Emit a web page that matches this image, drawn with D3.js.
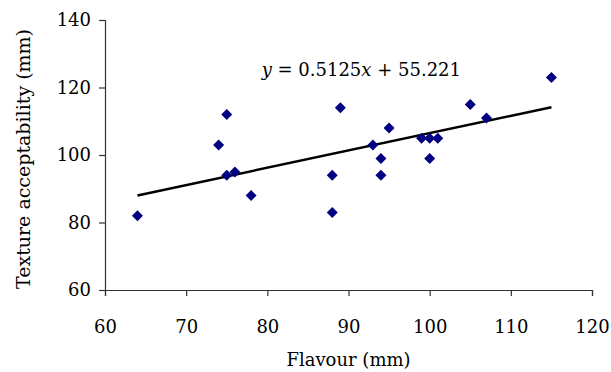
<!DOCTYPE html>
<html>
<head>
<meta charset="utf-8">
<script src="https://cdn.jsdelivr.net/npm/d3@7"></script>
<style>
  body { margin: 0; background: #fff; }
  text { font-family: "DejaVu Serif", serif; fill: #000; }
</style>
</head>
<body>
<svg width="611" height="372"></svg>
<script>
// flavour (x) vs texture acceptability (y), both in mm
var flavour = [64, 74, 75, 75, 76, 78, 88, 88, 89, 93, 94, 94, 95, 99, 100, 100, 101, 105, 107, 115];
var texture = [82, 103, 112, 94, 95, 88, 94, 83, 114, 103, 99, 94, 108, 105, 105, 99, 105, 115, 111, 123];
var xTicks = [60, 70, 80, 90, 100, 110, 120];
var yTicks = [60, 80, 100, 120, 140];
var slope = 0.5125;
var intercept = 55.221;

var points = flavour.map(function(d, i) { return {x: d, y: texture[i]}; });

var margins = {top: 20, left: 105, right: 19, bottom: 82};
var width = 611 - margins.left - margins.right;
var height = 372 - margins.top - margins.bottom;

var svg = d3.select('svg');

var xScale = d3.scaleLinear().domain([60, 120]).range([0, width]);
var yScale = d3.scaleLinear().domain([60, 140]).range([height, 0]);

var plot = svg.append('g')
  .attr('transform', 'translate(' + margins.left + ',' + margins.top + ')');

// axes
var xAxis = d3.axisBottom(xScale).tickValues(xTicks).tickSize(6).tickPadding(24);
var yAxis = d3.axisLeft(yScale).tickValues(yTicks).tickSize(6).tickPadding(8);

var gx = plot.append('g')
  .attr('transform', 'translate(0,' + height + ')')
  .call(xAxis);
var gy = plot.append('g').call(yAxis);

[gx, gy].forEach(function(g) {
  g.select('.domain').attr('stroke', '#333').attr('stroke-width', 1.2);
  g.selectAll('.tick line').attr('stroke', '#333').attr('stroke-width', 1.2);
  g.selectAll('.tick text')
    .style('font-family', '"DejaVu Serif", serif')
    .style('font-size', '18px')
    .attr('fill', '#000');
});

// trend line
var xExtent = d3.extent(flavour);
plot.append('line')
  .attr('x1', xScale(xExtent[0]))
  .attr('y1', yScale(slope * xExtent[0] + intercept))
  .attr('x2', xScale(xExtent[1]))
  .attr('y2', yScale(slope * xExtent[1] + intercept))
  .attr('stroke', '#000')
  .attr('stroke-width', 2.5);

// diamond markers
plot.selectAll('path.pt')
  .data(points)
  .enter()
  .append('path')
  .attr('class', 'pt')
  .attr('d', function(d) {
    var cx = xScale(d.x), cy = yScale(d.y), r = 5.5;
    return 'M' + cx + ',' + (cy - r) + 'L' + (cx + r) + ',' + cy +
           'L' + cx + ',' + (cy + r) + 'L' + (cx - r) + ',' + cy + 'Z';
  })
  .attr('fill', '#000080');

// equation label
var eq = plot.append('text')
  .attr('x', xScale(79.3))
  .attr('y', yScale(123.3))
  .style('font-size', '18px');
eq.append('tspan').style('font-style', 'italic').text('y');
eq.append('tspan').text(' = ' + slope + '');
eq.append('tspan').style('font-style', 'italic').text('x');
eq.append('tspan').text(' + ' + intercept);

// axis titles
svg.append('text')
  .attr('x', margins.left + width / 2)
  .attr('y', 366)
  .attr('text-anchor', 'middle')
  .style('font-size', '18px')
  .text('Flavour (mm)');

svg.append('text')
  .attr('transform', 'translate(30,159) rotate(-90)')
  .attr('text-anchor', 'middle')
  .style('font-size', '19px')
  .text('Texture acceptability (mm)');
</script>
</body>
</html>
